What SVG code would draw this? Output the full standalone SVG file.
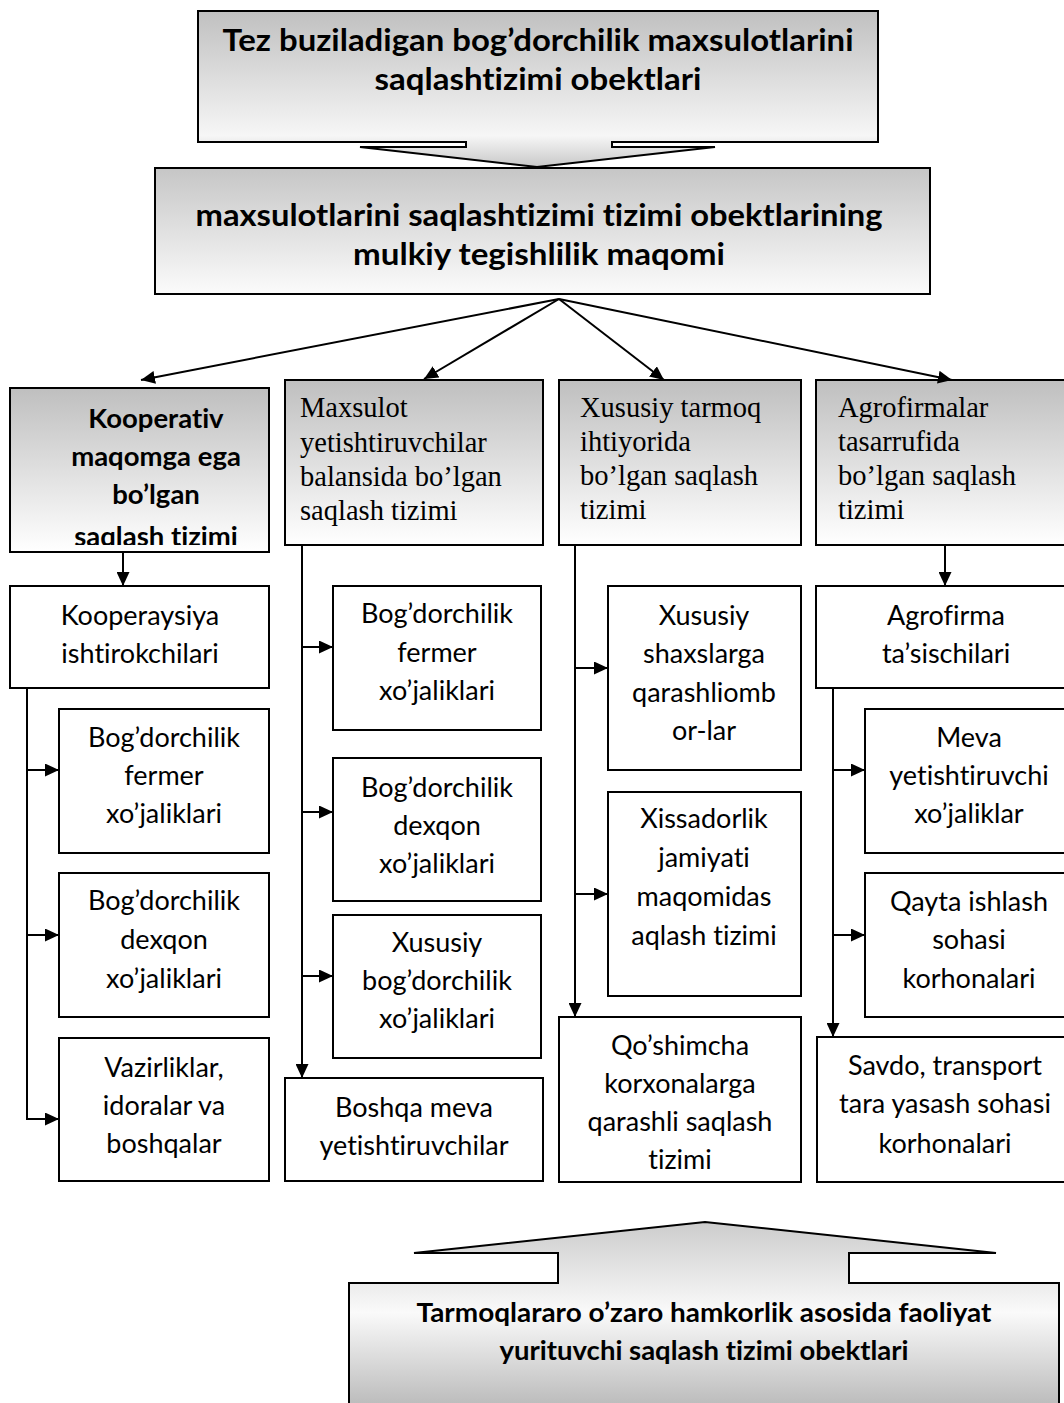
<svg xmlns="http://www.w3.org/2000/svg" width="1064" height="1403" viewBox="0 0 1064 1403">
<style>
.box{stroke:#000;stroke-width:2;fill:#fff}
.g{fill:url(#gBox)}
.c{font-family:Lato,"Liberation Sans",sans-serif;font-size:27px;fill:#000;text-anchor:middle;font-variant-ligatures:none}
.b{font-family:Lato,"Liberation Sans",sans-serif;font-weight:bold;fill:#000;text-anchor:middle;font-variant-ligatures:none}
.t{font-family:"Liberation Serif","Times New Roman",serif;font-size:28.5px;fill:#000}
.ln{stroke:#000;stroke-width:2;fill:none;marker-end:url(#ah)}
</style>
<defs>
<linearGradient id="gBox" x1="0" y1="0" x2="0" y2="1"><stop offset="0" stop-color="#bfbfbf"/><stop offset="1" stop-color="#ffffff"/></linearGradient>
<linearGradient id="gTop" x1="0" y1="0" x2="0" y2="1"><stop offset="0" stop-color="#c0c0c0"/><stop offset="0.8" stop-color="#f6f6f6"/><stop offset="1" stop-color="#c8c8c8"/></linearGradient>
<linearGradient id="gSec" x1="0" y1="0" x2="0" y2="1"><stop offset="0" stop-color="#c6c6c6"/><stop offset="1" stop-color="#fbfbfb"/></linearGradient>
<linearGradient id="gBot" gradientUnits="userSpaceOnUse" x1="0" y1="1222" x2="0" y2="1403"><stop offset="0" stop-color="#cccccc"/><stop offset="0.5" stop-color="#fafafa"/><stop offset="1" stop-color="#bdbdbd"/></linearGradient>
<marker id="ah" markerUnits="userSpaceOnUse" markerWidth="14" markerHeight="13" refX="14" refY="6.5" orient="auto"><path d="M0,0 L14,6.5 L0,13 Z" fill="#000"/></marker>
<clipPath id="kclip"><rect x="10" y="388" width="259" height="157"/></clipPath>
</defs>

<g id="node-top">
<path d="M198,11 L878,11 L878,142 L612,142 L612,147 L715,147 L537,167 L360,147 L466,147 L466,142 L198,142 Z" fill="url(#gTop)" stroke="#000" stroke-width="2"/>
<text class="b" font-size="31" x="538" y="51" textLength="631" lengthAdjust="spacingAndGlyphs">Tez buziladigan bog’dorchilik maxsulotlarini</text>
<text class="b" font-size="31" x="538" y="90" textLength="327" lengthAdjust="spacingAndGlyphs">saqlashtizimi obektlari</text>
</g>

<g id="node-status">
<rect x="155" y="168" width="775" height="126" fill="url(#gSec)" stroke="#000" stroke-width="2"/>
<text class="b" font-size="31" x="539" y="226" textLength="687" lengthAdjust="spacingAndGlyphs">maxsulotlarini saqlashtizimi tizimi obektlarining</text>
<text class="b" font-size="31" x="539" y="265" textLength="372" lengthAdjust="spacingAndGlyphs">mulkiy tegishlilik maqomi</text>
</g>

<g id="node-kooperativ">
<rect class="box g" x="10" y="388" width="259" height="164"/>
<g clip-path="url(#kclip)">
<text class="b" font-size="27.5" x="156" y="428">Kooperativ</text>
<text class="b" font-size="27.5" x="156" y="466">maqomga ega</text>
<text class="b" font-size="27.5" x="156" y="504">bo’lgan</text>
<text class="b" font-size="27.5" x="156" y="546">saqlash tizimi</text>
</g>
</g>

<g id="node-maxsulot">
<rect class="box g" x="285" y="380" width="258" height="165"/>
<text class="t" x="300" y="417">Maxsulot</text>
<text class="t" x="300" y="452">yetishtiruvchilar</text>
<text class="t" x="300" y="486">balansida bo’lgan</text>
<text class="t" x="300" y="520">saqlash tizimi</text>
</g>

<g id="node-xususiy">
<rect class="box g" x="559" y="380" width="242" height="165"/>
<text class="t" x="580" y="417">Xususiy tarmoq</text>
<text class="t" x="580" y="451">ihtiyorida</text>
<text class="t" x="580" y="485">bo’lgan saqlash</text>
<text class="t" x="580" y="519">tizimi</text>
</g>

<g id="node-agrofirmalar">
<rect class="box g" x="816" y="380" width="260" height="165"/>
<text class="t" x="838" y="417">Agrofirmalar</text>
<text class="t" x="838" y="451">tasarrufida</text>
<text class="t" x="838" y="485">bo’lgan saqlash</text>
<text class="t" x="838" y="519">tizimi</text>
</g>

<g id="node-kooperaysiya">
<rect class="box" x="10" y="586" width="259" height="102"/>
<text class="c" x="140" y="625">Kooperaysiya</text>
<text class="c" x="140" y="663">ishtirokchilari</text>
</g>
<g id="node-c1-fermer">
<rect class="box" x="59" y="709" width="210" height="144"/>
<text class="c" x="164" y="747">Bog’dorchilik</text>
<text class="c" x="164" y="785">fermer</text>
<text class="c" x="164" y="823">xo’jaliklari</text>
</g>
<g id="node-c1-dexqon">
<rect class="box" x="59" y="873" width="210" height="144"/>
<text class="c" x="164" y="910">Bog’dorchilik</text>
<text class="c" x="164" y="949">dexqon</text>
<text class="c" x="164" y="988">xo’jaliklari</text>
</g>
<g id="node-c1-vazirliklar">
<rect class="box" x="59" y="1038" width="210" height="143"/>
<text class="c" x="164" y="1077">Vazirliklar,</text>
<text class="c" x="164" y="1115">idoralar va</text>
<text class="c" x="164" y="1153">boshqalar</text>
</g>

<g id="node-c2-fermer">
<rect class="box" x="333" y="586" width="208" height="144"/>
<text class="c" x="437" y="623">Bog’dorchilik</text>
<text class="c" x="437" y="662">fermer</text>
<text class="c" x="437" y="700">xo’jaliklari</text>
</g>
<g id="node-c2-dexqon">
<rect class="box" x="333" y="758" width="208" height="143"/>
<text class="c" x="437" y="797">Bog’dorchilik</text>
<text class="c" x="437" y="835">dexqon</text>
<text class="c" x="437" y="873">xo’jaliklari</text>
</g>
<g id="node-c2-xususiy">
<rect class="box" x="333" y="915" width="208" height="143"/>
<text class="c" x="437" y="952">Xususiy</text>
<text class="c" x="437" y="990">bog’dorchilik</text>
<text class="c" x="437" y="1028">xo’jaliklari</text>
</g>
<g id="node-c2-boshqa">
<rect class="box" x="285" y="1078" width="258" height="103"/>
<text class="c" x="414" y="1117">Boshqa meva</text>
<text class="c" x="414" y="1155">yetishtiruvchilar</text>
</g>

<g id="node-c3-shaxs">
<rect class="box" x="608" y="586" width="193" height="184"/>
<text class="c" x="704" y="625">Xususiy</text>
<text class="c" x="704" y="663">shaxslarga</text>
<text class="c" x="704" y="702">qarashliomb</text>
<text class="c" x="704" y="740">or-lar</text>
</g>
<g id="node-c3-xissadorlik">
<rect class="box" x="608" y="792" width="193" height="204"/>
<text class="c" x="704" y="828">Xissadorlik</text>
<text class="c" x="704" y="867">jamiyati</text>
<text class="c" x="704" y="906">maqomidas</text>
<text class="c" x="704" y="945">aqlash tizimi</text>
</g>
<g id="node-c3-qoshimcha">
<rect class="box" x="559" y="1017" width="242" height="165"/>
<text class="c" x="680" y="1055">Qo’shimcha</text>
<text class="c" x="680" y="1093">korxonalarga</text>
<text class="c" x="680" y="1131">qarashli saqlash</text>
<text class="c" x="680" y="1169">tizimi</text>
</g>

<g id="node-c4-agrofirma">
<rect class="box" x="816" y="586" width="260" height="102"/>
<text class="c" x="946" y="625">Agrofirma</text>
<text class="c" x="946" y="663">ta’sischilari</text>
</g>
<g id="node-c4-meva">
<rect class="box" x="865" y="709" width="211" height="144"/>
<text class="c" x="969" y="747">Meva</text>
<text class="c" x="969" y="785">yetishtiruvchi</text>
<text class="c" x="969" y="823">xo’jaliklar</text>
</g>
<g id="node-c4-qayta">
<rect class="box" x="865" y="873" width="211" height="144"/>
<text class="c" x="969" y="911">Qayta ishlash</text>
<text class="c" x="969" y="949">sohasi</text>
<text class="c" x="969" y="988">korhonalari</text>
</g>
<g id="node-c4-savdo">
<rect class="box" x="817" y="1037" width="259" height="145"/>
<text class="c" x="945" y="1075">Savdo, transport</text>
<text class="c" x="945" y="1113">tara yasash sohasi</text>
<text class="c" x="945" y="1153">korhonalari</text>
</g>

<g id="node-bottom">
<path d="M349,1410 L349,1283 L558,1283 L558,1253 L414,1253 L705,1222 L996,1253 L849,1253 L849,1283 L1059,1283 L1059,1410 Z" fill="url(#gBot)" stroke="#000" stroke-width="2"/>
<text class="b" font-size="27.5" x="704" y="1322" textLength="575" lengthAdjust="spacingAndGlyphs">Tarmoqlararo o’zaro hamkorlik asosida faoliyat</text>
<text class="b" font-size="27.5" x="704" y="1360" textLength="409" lengthAdjust="spacingAndGlyphs">yurituvchi saqlash tizimi obektlari</text>
</g>

<g id="connectors">
<path class="ln" d="M559,299 L141,380"/>
<path class="ln" d="M559,299 L424,379"/>
<path class="ln" d="M559,299 L664,380"/>
<path class="ln" d="M559,299 L952,380"/>
<path class="ln" d="M123,553 L123,586"/>
<path class="ln" d="M27,688 L27,1119 L59,1119"/>
<path class="ln" d="M27,770 L59,770"/>
<path class="ln" d="M27,935 L59,935"/>
<path class="ln" d="M302,545 L302,1078"/>
<path class="ln" d="M302,647 L333,647"/>
<path class="ln" d="M302,812 L333,812"/>
<path class="ln" d="M302,976 L333,976"/>
<path class="ln" d="M575,545 L575,1017"/>
<path class="ln" d="M575,668 L608,668"/>
<path class="ln" d="M575,894 L608,894"/>
<path class="ln" d="M945,545 L945,586"/>
<path class="ln" d="M833,688 L833,1037"/>
<path class="ln" d="M833,770 L865,770"/>
<path class="ln" d="M833,935 L865,935"/>
</g>
</svg>
